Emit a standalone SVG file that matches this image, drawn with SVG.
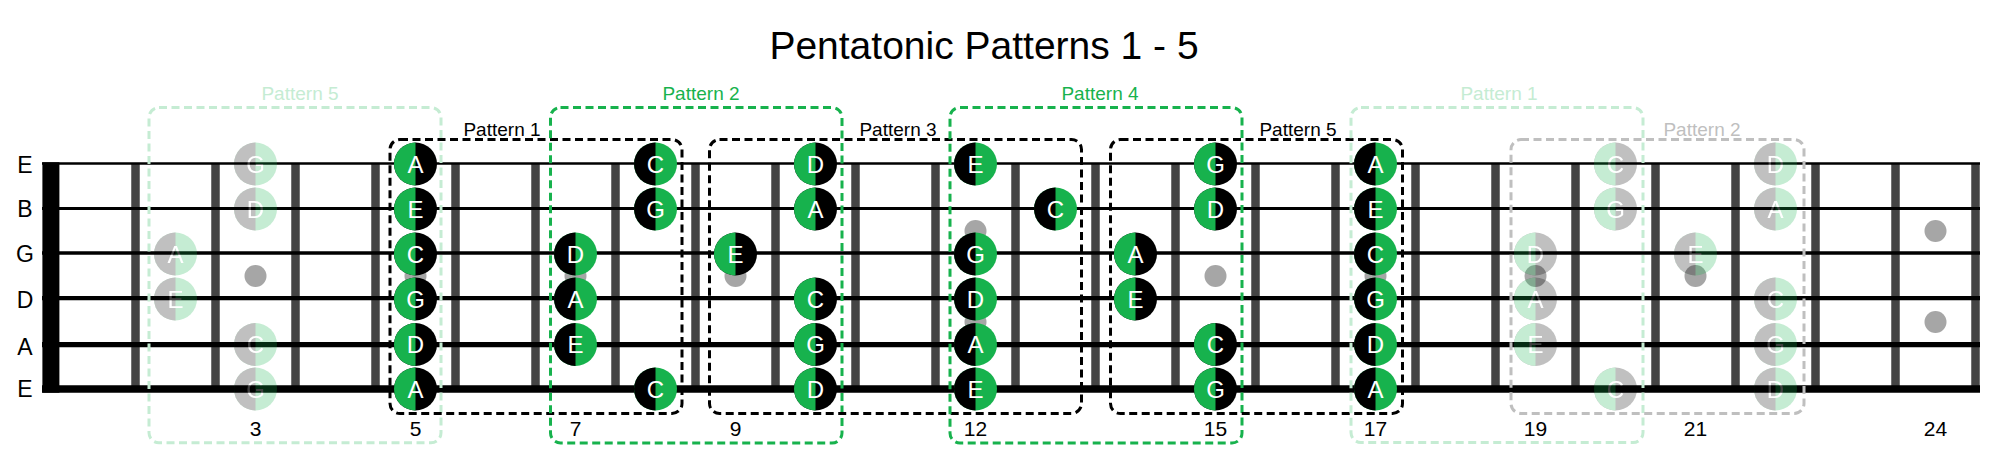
<svg xmlns="http://www.w3.org/2000/svg" xmlns:xlink="http://www.w3.org/1999/xlink" width="2001" height="459" viewBox="0 0 2001 459">
<style>
text{font-family:"Liberation Sans",Arial,sans-serif}
.title{font-size:39px;fill:#000}
.str{font-size:23px;fill:#000;text-anchor:middle}
.num{font-size:21px;fill:#000;text-anchor:middle}
.lbl{font-size:19px;text-anchor:middle}
.nt{font-size:24px;fill:#fff;text-anchor:middle}
.box{fill:none;stroke-width:3;stroke-dasharray:8 4.5}
.s{stroke:#000}
.dot{fill:#a6a6a6}
.faded{opacity:0.25}
</style>
<defs>
<g id="gb"><circle r="21.5" fill="#000"/><path d="M0,-21.5A21.5,21.5 0 0 0 0,21.5Z" fill="#17b24d"/></g>
<g id="bg"><circle r="21.5" fill="#17b24d"/><path d="M0,-21.5A21.5,21.5 0 0 0 0,21.5Z" fill="#000"/></g>
</defs>
<rect width="2001" height="459" fill="#fff"/>
<text class="title" x="984" y="59.3" text-anchor="middle">Pentatonic Patterns 1 - 5</text>

<g id="fretboard">
<path d="M135.5,163V389M215.5,163V389M295.5,163V389M375.5,163V389M455.5,163V389M535.5,163V389M615.5,163V389M695.5,163V389M775.5,163V389M855.5,163V389M935.5,163V389M1015.5,163V389M1095.5,163V389M1175.5,163V389M1255.5,163V389M1335.5,163V389M1415.5,163V389M1495.5,163V389M1575.5,163V389M1655.5,163V389M1735.5,163V389M1815.5,163V389M1895.5,163V389M1975.5,163V389" stroke="#444" stroke-width="8.5" fill="none"/>
<line class="s" x1="42" x2="1980" y1="163.5" y2="163.5" stroke-width="2.7"/>
<line class="s" x1="42" x2="1980" y1="208.5" y2="208.5" stroke-width="3"/>
<line class="s" x1="42" x2="1980" y1="253" y2="253" stroke-width="3.3"/>
<line class="s" x1="42" x2="1980" y1="298.2" y2="298.2" stroke-width="4.3"/>
<line class="s" x1="42" x2="1980" y1="344.6" y2="344.6" stroke-width="5.3"/>
<line class="s" x1="42" x2="1980" y1="389" y2="389" stroke-width="7.3"/>
<rect x="42.4" y="162.3" width="17" height="230.4" fill="#000"/>
<circle class="dot" cx="255.5" cy="276" r="11"/>
<circle class="dot" cx="415.5" cy="276" r="11"/>
<circle class="dot" cx="575.5" cy="276" r="11"/>
<circle class="dot" cx="735.5" cy="276" r="11"/>
<circle class="dot" cx="975.5" cy="231" r="11"/>
<circle class="dot" cx="975.5" cy="322" r="11"/>
<circle class="dot" cx="1215.5" cy="276" r="11"/>
<circle class="dot" cx="1375.5" cy="276" r="11"/>
<circle class="dot" cx="1535.5" cy="276" r="11"/>
<circle class="dot" cx="1695.5" cy="276" r="11"/>
<circle class="dot" cx="1935.5" cy="231" r="11"/>
<circle class="dot" cx="1935.5" cy="322" r="11"/>
</g>

<g id="string-labels">
<text class="str" x="25" y="172.5">E</text>
<text class="str" x="25" y="216.8">B</text>
<text class="str" x="25" y="261.7">G</text>
<text class="str" x="25" y="307.5">D</text>
<text class="str" x="25" y="355">A</text>
<text class="str" x="25" y="397">E</text>
</g>

<g id="fret-numbers">
<text class="num" x="255.5" y="435.5">3</text>
<text class="num" x="415.5" y="435.5">5</text>
<text class="num" x="575.5" y="435.5">7</text>
<text class="num" x="735.5" y="435.5">9</text>
<text class="num" x="975.5" y="435.5">12</text>
<text class="num" x="1215.5" y="435.5">15</text>
<text class="num" x="1375.5" y="435.5">17</text>
<text class="num" x="1535.5" y="435.5">19</text>
<text class="num" x="1695.5" y="435.5">21</text>
<text class="num" x="1935.5" y="435.5">24</text>
</g>

<g id="connectors">
<rect class="box" x="149" y="107.5" width="292" height="335.3" rx="10" stroke="#c5ecd3"/>
<rect class="box" x="390" y="139.5" width="292" height="274" rx="10" stroke="#000"/>
<rect class="box" x="550.5" y="107.5" width="291.5" height="335.5" rx="10" stroke="#17b24d"/>
<rect class="box" x="709.5" y="139.5" width="372" height="274" rx="10" stroke="#000"/>
<rect class="box" x="950" y="107.5" width="292" height="335.5" rx="10" stroke="#17b24d"/>
<rect class="box" x="1110.5" y="139.5" width="292" height="274" rx="10" stroke="#000"/>
<rect class="box" x="1351" y="107.5" width="292" height="335" rx="10" stroke="#c5ecd3"/>
<rect class="box" x="1511" y="139.5" width="293" height="274" rx="10" stroke="#bfbfbf"/>
</g>

<g id="pattern-labels">
<text id="lbl-p5-low" class="lbl" x="300" y="100" fill="#c5ecd3">Pattern 5</text>
<text id="lbl-p1" class="lbl" x="502" y="135.5" fill="#000">Pattern 1</text>
<text id="lbl-p2" class="lbl" x="701" y="100" fill="#17b24d">Pattern 2</text>
<text id="lbl-p3" class="lbl" x="898" y="135.5" fill="#000">Pattern 3</text>
<text id="lbl-p4" class="lbl" x="1100" y="100" fill="#17b24d">Pattern 4</text>
<text id="lbl-p5" class="lbl" x="1298" y="135.5" fill="#000">Pattern 5</text>
<text id="lbl-p1-high" class="lbl" x="1499" y="100" fill="#c5ecd3">Pattern 1</text>
<text id="lbl-p2-high" class="lbl" x="1702" y="135.5" fill="#bfbfbf">Pattern 2</text>
</g>

<g id="notes-faded-low" class="faded">
<g id="n-f2-g"><use xlink:href="#bg" href="#bg" x="175.5" y="254"/><text class="nt" x="175.5" y="262.5">A</text></g>
<g id="n-f2-d"><use xlink:href="#bg" href="#bg" x="175.5" y="299"/><text class="nt" x="175.5" y="307.5">E</text></g>
<g id="n-f3-e1"><use xlink:href="#bg" href="#bg" x="255.5" y="164"/><text class="nt" x="255.5" y="172.5">G</text></g>
<g id="n-f3-b"><use xlink:href="#bg" href="#bg" x="255.5" y="209"/><text class="nt" x="255.5" y="217.5">D</text></g>
<g id="n-f3-a"><use xlink:href="#bg" href="#bg" x="255.5" y="344.5"/><text class="nt" x="255.5" y="353">C</text></g>
<g id="n-f3-e6"><use xlink:href="#bg" href="#bg" x="255.5" y="389"/><text class="nt" x="255.5" y="397.5">G</text></g>
</g>

<g id="notes-faded-high" class="faded">
<g id="n-f19-g"><use xlink:href="#gb" href="#gb" x="1535.5" y="254"/><text class="nt" x="1535.5" y="262.5">D</text></g>
<g id="n-f19-d"><use xlink:href="#gb" href="#gb" x="1535.5" y="299"/><text class="nt" x="1535.5" y="307.5">A</text></g>
<g id="n-f19-a"><use xlink:href="#gb" href="#gb" x="1535.5" y="344.5"/><text class="nt" x="1535.5" y="353">E</text></g>
<g id="n-f20-e1"><use xlink:href="#gb" href="#gb" x="1615.5" y="164"/><text class="nt" x="1615.5" y="172.5">C</text></g>
<g id="n-f20-b"><use xlink:href="#gb" href="#gb" x="1615.5" y="209"/><text class="nt" x="1615.5" y="217.5">G</text></g>
<g id="n-f20-e6"><use xlink:href="#gb" href="#gb" x="1615.5" y="389"/><text class="nt" x="1615.5" y="397.5">C</text></g>
<g id="n-f21-g"><use xlink:href="#bg" href="#bg" x="1695.5" y="254"/><text class="nt" x="1695.5" y="262.5">E</text></g>
<g id="n-f22-e1"><use xlink:href="#bg" href="#bg" x="1775.5" y="164"/><text class="nt" x="1775.5" y="172.5">D</text></g>
<g id="n-f22-b"><use xlink:href="#bg" href="#bg" x="1775.5" y="209"/><text class="nt" x="1775.5" y="217.5">A</text></g>
<g id="n-f22-d"><use xlink:href="#bg" href="#bg" x="1775.5" y="299"/><text class="nt" x="1775.5" y="307.5">C</text></g>
<g id="n-f22-a"><use xlink:href="#bg" href="#bg" x="1775.5" y="344.5"/><text class="nt" x="1775.5" y="353">G</text></g>
<g id="n-f22-e6"><use xlink:href="#bg" href="#bg" x="1775.5" y="389"/><text class="nt" x="1775.5" y="397.5">D</text></g>
</g>

<g id="notes">
<g id="n-f5-e1"><use xlink:href="#gb" href="#gb" x="415.5" y="164"/><text class="nt" x="415.5" y="172.5">A</text></g>
<g id="n-f5-b"><use xlink:href="#gb" href="#gb" x="415.5" y="209"/><text class="nt" x="415.5" y="217.5">E</text></g>
<g id="n-f5-g"><use xlink:href="#gb" href="#gb" x="415.5" y="254"/><text class="nt" x="415.5" y="262.5">C</text></g>
<g id="n-f5-d"><use xlink:href="#gb" href="#gb" x="415.5" y="299"/><text class="nt" x="415.5" y="307.5">G</text></g>
<g id="n-f5-a"><use xlink:href="#gb" href="#gb" x="415.5" y="344.5"/><text class="nt" x="415.5" y="353">D</text></g>
<g id="n-f5-e6"><use xlink:href="#gb" href="#gb" x="415.5" y="389"/><text class="nt" x="415.5" y="397.5">A</text></g>

<g id="n-f7-g"><use xlink:href="#bg" href="#bg" x="575.5" y="254"/><text class="nt" x="575.5" y="262.5">D</text></g>
<g id="n-f7-d"><use xlink:href="#bg" href="#bg" x="575.5" y="299"/><text class="nt" x="575.5" y="307.5">A</text></g>
<g id="n-f7-a"><use xlink:href="#bg" href="#bg" x="575.5" y="344.5"/><text class="nt" x="575.5" y="353">E</text></g>

<g id="n-f8-e1"><use xlink:href="#bg" href="#bg" x="655.5" y="164"/><text class="nt" x="655.5" y="172.5">C</text></g>
<g id="n-f8-b"><use xlink:href="#bg" href="#bg" x="655.5" y="209"/><text class="nt" x="655.5" y="217.5">G</text></g>
<g id="n-f8-e6"><use xlink:href="#bg" href="#bg" x="655.5" y="389"/><text class="nt" x="655.5" y="397.5">C</text></g>

<g id="n-f9-g"><use xlink:href="#gb" href="#gb" x="735.5" y="254"/><text class="nt" x="735.5" y="262.5">E</text></g>

<g id="n-f10-e1"><use xlink:href="#gb" href="#gb" x="815.5" y="164"/><text class="nt" x="815.5" y="172.5">D</text></g>
<g id="n-f10-b"><use xlink:href="#gb" href="#gb" x="815.5" y="209"/><text class="nt" x="815.5" y="217.5">A</text></g>
<g id="n-f10-d"><use xlink:href="#gb" href="#gb" x="815.5" y="299"/><text class="nt" x="815.5" y="307.5">C</text></g>
<g id="n-f10-a"><use xlink:href="#gb" href="#gb" x="815.5" y="344.5"/><text class="nt" x="815.5" y="353">G</text></g>
<g id="n-f10-e6"><use xlink:href="#gb" href="#gb" x="815.5" y="389"/><text class="nt" x="815.5" y="397.5">D</text></g>

<g id="n-f12-e1"><use xlink:href="#bg" href="#bg" x="975.5" y="164"/><text class="nt" x="975.5" y="172.5">E</text></g>
<g id="n-f12-g"><use xlink:href="#bg" href="#bg" x="975.5" y="254"/><text class="nt" x="975.5" y="262.5">G</text></g>
<g id="n-f12-d"><use xlink:href="#bg" href="#bg" x="975.5" y="299"/><text class="nt" x="975.5" y="307.5">D</text></g>
<g id="n-f12-a"><use xlink:href="#bg" href="#bg" x="975.5" y="344.5"/><text class="nt" x="975.5" y="353">A</text></g>
<g id="n-f12-e6"><use xlink:href="#bg" href="#bg" x="975.5" y="389"/><text class="nt" x="975.5" y="397.5">E</text></g>

<g id="n-f13-b"><use xlink:href="#bg" href="#bg" x="1055.5" y="209"/><text class="nt" x="1055.5" y="217.5">C</text></g>

<g id="n-f14-g"><use xlink:href="#gb" href="#gb" x="1135.5" y="254"/><text class="nt" x="1135.5" y="262.5">A</text></g>
<g id="n-f14-d"><use xlink:href="#gb" href="#gb" x="1135.5" y="299"/><text class="nt" x="1135.5" y="307.5">E</text></g>

<g id="n-f15-e1"><use xlink:href="#gb" href="#gb" x="1215.5" y="164"/><text class="nt" x="1215.5" y="172.5">G</text></g>
<g id="n-f15-b"><use xlink:href="#gb" href="#gb" x="1215.5" y="209"/><text class="nt" x="1215.5" y="217.5">D</text></g>
<g id="n-f15-a"><use xlink:href="#gb" href="#gb" x="1215.5" y="344.5"/><text class="nt" x="1215.5" y="353">C</text></g>
<g id="n-f15-e6"><use xlink:href="#gb" href="#gb" x="1215.5" y="389"/><text class="nt" x="1215.5" y="397.5">G</text></g>

<g id="n-f17-e1"><use xlink:href="#bg" href="#bg" x="1375.5" y="164"/><text class="nt" x="1375.5" y="172.5">A</text></g>
<g id="n-f17-b"><use xlink:href="#bg" href="#bg" x="1375.5" y="209"/><text class="nt" x="1375.5" y="217.5">E</text></g>
<g id="n-f17-g"><use xlink:href="#bg" href="#bg" x="1375.5" y="254"/><text class="nt" x="1375.5" y="262.5">C</text></g>
<g id="n-f17-d"><use xlink:href="#bg" href="#bg" x="1375.5" y="299"/><text class="nt" x="1375.5" y="307.5">G</text></g>
<g id="n-f17-a"><use xlink:href="#bg" href="#bg" x="1375.5" y="344.5"/><text class="nt" x="1375.5" y="353">D</text></g>
<g id="n-f17-e6"><use xlink:href="#bg" href="#bg" x="1375.5" y="389"/><text class="nt" x="1375.5" y="397.5">A</text></g>
</g>
</svg>
